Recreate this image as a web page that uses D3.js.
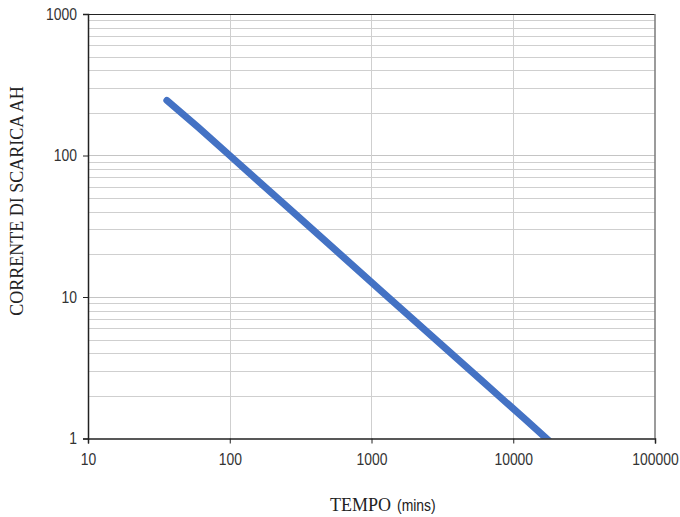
<!DOCTYPE html>
<html>
<head>
<meta charset="utf-8">
<script src="https://cdn.jsdelivr.net/npm/d3@7.9.0/dist/d3.min.js"></script>
<style>
  body { margin: 0; background: #fff; }
  svg { display: block; }
  .tick-label { font-family: "Liberation Sans", Arial, sans-serif; font-size: 17px; fill: #333; }
  .title { font-family: "Liberation Serif", "Times New Roman", serif; font-size: 18px; fill: #222; }
</style>
</head>
<body>
<svg id="chart" width="680" height="517"></svg>
<script>
// tempo (mins) vs corrente di scarica
const tempo = [36, 60, 100, 180, 300, 600, 1200, 3000, 6000, 12000, 20000];
const corrente = [245, 158, 100, 59, 37.4, 20.1, 10.8, 4.76, 2.56, 1.38, 0.87];

const xTicks = [10, 100, 1000, 10000, 100000];
const yTicks = [1, 10, 100, 1000];

const svg = d3.select('#chart');
const plotL = 88, plotR = 655, plotT = 14, plotB = 438.5;
const narrow = 0.82;

const x = d3.scaleLog().domain([10, 100000]).range([plotL, plotR]);
const y = d3.scaleLog().domain([1, 1000]).range([plotB, plotT]);

// minor grid on y (2..9 per decade)
let yMinor = [];
for (let d = 1; d < 1000; d *= 10) {
  for (let k = 2; k <= 9; k++) yMinor.push(d * k);
}

const grid = svg.append('g');
grid.selectAll('line.ym').data(yMinor).join('line')
  .attr('x1', plotL).attr('x2', plotR)
  .attr('y1', d => Math.round(y(d)) + 0.5).attr('y2', d => Math.round(y(d)) + 0.5)
  .attr('stroke', '#cfcfcf').attr('stroke-width', 1);
grid.selectAll('line.yM').data(yTicks.slice(1, -1)).join('line')
  .attr('x1', plotL).attr('x2', plotR)
  .attr('y1', d => Math.round(y(d)) + 0.5).attr('y2', d => Math.round(y(d)) + 0.5)
  .attr('stroke', '#c4c4c4').attr('stroke-width', 1);
grid.selectAll('line.xM').data(xTicks.slice(1, -1)).join('line')
  .attr('x1', d => Math.round(x(d)) + 0.5).attr('x2', d => Math.round(x(d)) + 0.5)
  .attr('y1', plotT).attr('y2', plotB)
  .attr('stroke', '#cfcfcf').attr('stroke-width', 1);

// series line, clipped to plot area
svg.append('clipPath').attr('id', 'clip')
  .append('rect').attr('x', plotL).attr('y', plotT).attr('width', plotR - plotL).attr('height', plotB - plotT);

const line = d3.line().x((d, i) => x(tempo[i])).y(d => y(d));
svg.append('path')
  .attr('clip-path', 'url(#clip)')
  .attr('d', line(corrente))
  .attr('fill', 'none')
  .attr('stroke', '#4472C4')
  .attr('stroke-width', 7)
  .attr('stroke-linecap', 'round');

// frame
svg.append('line').attr('x1', plotL).attr('x2', plotR).attr('y1', plotT + 0.5).attr('y2', plotT + 0.5)
  .attr('stroke', '#222').attr('stroke-width', 1);
svg.append('line').attr('x1', plotR).attr('x2', plotR).attr('y1', plotT).attr('y2', plotB)
  .attr('stroke', '#7a7a7a').attr('stroke-width', 1.5);

// axes
const xAxis = d3.axisBottom(x).tickValues(xTicks).tickFormat(d3.format('d')).tickSize(5).tickPadding(9);
const yAxis = d3.axisLeft(y).tickValues(yTicks).tickFormat(d3.format('d')).tickSize(5).tickPadding(6);

const gx = svg.append('g').attr('transform', `translate(0,${plotB})`).call(xAxis);
const gy = svg.append('g').attr('transform', `translate(${plotL},0)`).call(yAxis);

[gx, gy].forEach(g => {
  g.attr('font-family', null).attr('font-size', null);
  g.select('.domain').attr('stroke', '#222').attr('stroke-width', 1.5);
  g.selectAll('.tick line').attr('stroke', '#222');
  g.selectAll('.tick text').attr('class', 'tick-label')
    .attr('transform', `scale(${narrow},1)`);
});
// keep y labels ending at the same spot after the squeeze
gy.selectAll('.tick text').attr('x', -11 / narrow);

// titles
svg.append('text').attr('class', 'title')
  .attr('transform', 'translate(23,201) rotate(-90)')
  .attr('text-anchor', 'middle')
  .text('CORRENTE DI SCARICA AH');

svg.append('text').attr('class', 'title').attr('x', 330).attr('y', 511).text('TEMPO');
svg.append('text').attr('class', 'tick-label').style('fill', '#222')
  .attr('transform', `translate(397,511) scale(${narrow},1)`).text('(mins)');
</script>
</body>
</html>
